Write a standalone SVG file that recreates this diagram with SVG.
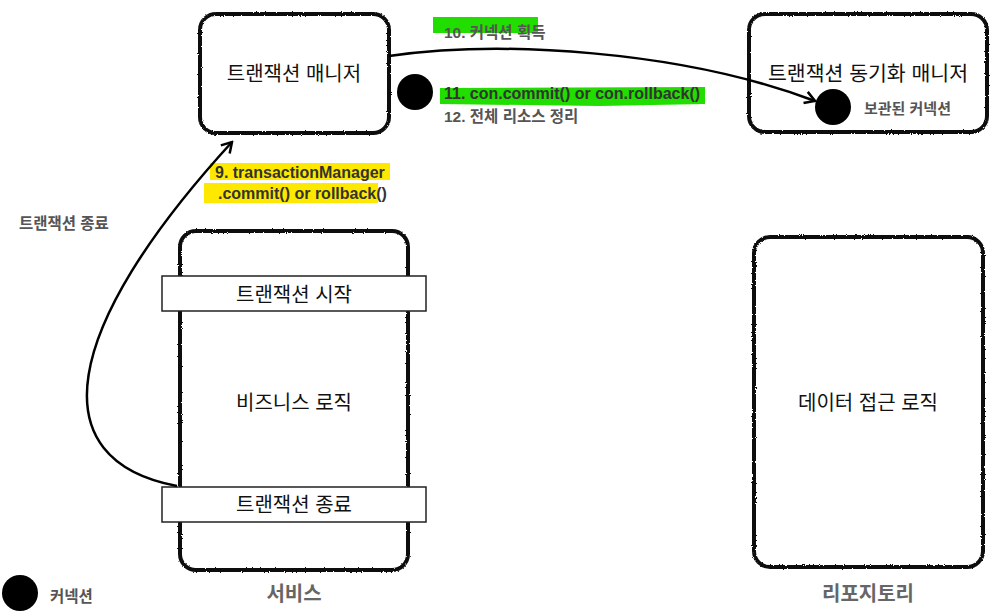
<svg xmlns="http://www.w3.org/2000/svg" width="997" height="612" viewBox="0 0 997 612">
<style>
.box{fill:#fff;stroke:#111;stroke-width:4;filter:url(#rough)}
.bar{fill:#fff;stroke:#222;stroke-width:1.5}
.t{font-family:"Liberation Sans","Noto Sans CJK KR",sans-serif;fill:#111;font-size:20px;text-anchor:middle}
.cap{font-family:"Liberation Sans","Noto Sans CJK KR",sans-serif;fill:#666;font-size:20px;font-weight:bold;text-anchor:middle}
.lbl{font-family:"Liberation Sans","Noto Sans CJK KR",sans-serif;fill:#555;font-size:15.5px;font-weight:bold}
.lblg{font-family:"Liberation Sans","Noto Sans CJK KR",sans-serif;fill:#333;font-size:16px;font-weight:bold}
.conn{fill:none;stroke:#000;stroke-width:2.5;marker-end:url(#arr)}
.dot{fill:#000}
</style>
<defs>
<filter id="rough" x="-5%" y="-5%" width="110%" height="110%">
<feTurbulence type="fractalNoise" baseFrequency="0.9" numOctaves="2" seed="3"/>
<feDisplacementMap in="SourceGraphic" scale="2.5" xChannelSelector="R" yChannelSelector="G"/>
</filter>
<marker id="arr" markerWidth="14" markerHeight="14" refX="12" refY="7" orient="auto" markerUnits="userSpaceOnUse">
<path d="M2,1 L12,7 L2,13" fill="none" stroke="#000" stroke-width="2.5"/>
</marker>
</defs>

<g id="txmanager">
<rect class="box" x="200" y="14" width="189" height="119" rx="16"/>
<text class="t" x="294" y="81">트랜잭션 매니저</text>
</g>

<g id="syncmanager">
<rect class="box" x="749" y="14" width="238" height="118" rx="16"/>
<text class="t" x="868" y="81" style="font-size:20.5px">트랜잭션 동기화 매니저</text>
<circle class="dot" cx="833" cy="107" r="18"/>
<text class="lbl" x="864" y="114" style="font-size:15px">보관된 커넥션</text>
</g>

<g id="service">
<rect class="box" x="180" y="231" width="228" height="339" rx="16"/>
<text class="t" x="294" y="410">비즈니스 로직</text>
<text class="cap" x="294" y="601">서비스</text>
</g>

<g id="txstart">
<rect class="bar" x="162" y="276" width="264" height="35"/>
<text class="t" x="294" y="302">트랜잭션 시작</text>
</g>

<g id="txend">
<rect class="bar" x="162" y="487" width="264" height="35"/>
<text class="t" x="294" y="512">트랜잭션 종료</text>
</g>

<g id="repository">
<rect class="box" x="754" y="237" width="229" height="330" rx="16"/>
<text class="t" x="868" y="410">데이터 접근 로직</text>
<text class="cap" x="868" y="601">리포지토리</text>
</g>

<g id="connection-dot">
<circle class="dot" cx="415" cy="92" r="18"/>
</g>

<g id="legend">
<circle class="dot" cx="20" cy="593" r="18"/>
<text class="lbl" x="50" y="602">커넥션</text>
</g>

<g id="labels">
<rect x="433" y="17" width="105" height="16" fill="#22dd00"/>
<text class="lbl" x="444" y="38">10. 커넥션 획득</text>
<path d="M440,88 L705,87 L705,104 L600,106 L440,104 Z" fill="#22dd00"/>
<text class="lblg" x="444" y="99">11. con.commit() or con.rollback()</text>
<text class="lbl" x="444" y="122">12. 전체 리소스 정리</text>
<rect x="210" y="163" width="180" height="17" fill="#ffe800"/>
<rect x="204" y="183" width="174" height="20" fill="#ffe800"/>
<text class="lblg" x="215" y="178">9. transactionManager</text>
<text class="lblg" x="218" y="199">.commit() or rollback()</text>
<text class="lbl" x="19" y="229">트랜잭션 종료</text>
</g>

<g id="connectors">
<path class="conn" d="M389,56 C500,40 680,50 815,101"/>
<path class="conn" d="M177,486 C40,460 60,330 232,142"/>
</g>
</svg>
